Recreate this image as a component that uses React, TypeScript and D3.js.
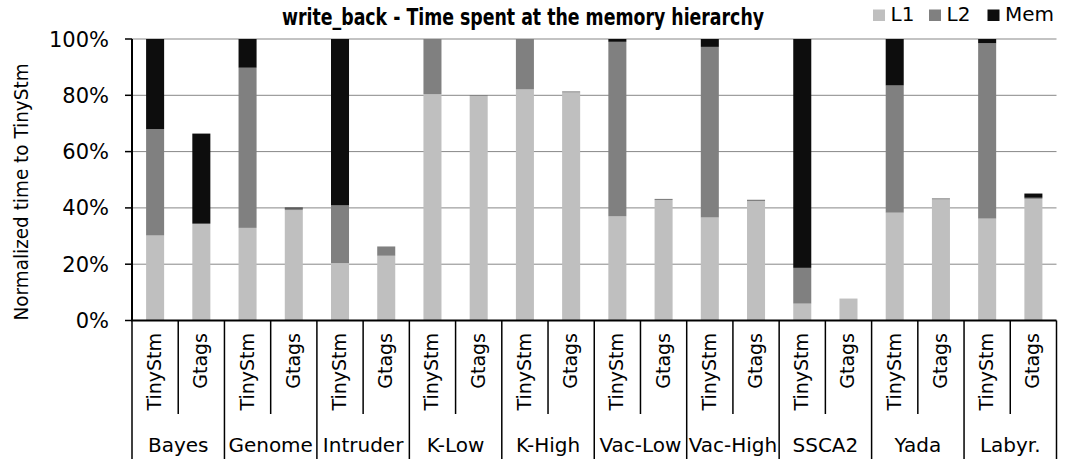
import React from 'react';
import * as d3 from 'd3';

const benchmarks = ['Bayes', 'Genome', 'Intruder', 'K-Low', 'K-High', 'Vac-Low', 'Vac-High', 'SSCA2', 'Yada', 'Labyr.'];
const systems = ['TinyStm', 'Gtags'];
const seriesNames = ['L1', 'L2', 'Mem'];
const seriesColors = ['#bfbfbf', '#808080', '#0d0d0d'];

const tinyL1 = [30.2, 32.9, 20.4, 80.4, 82.1, 37.0, 36.6, 6.0, 38.3, 36.2];
const tinyL2 = [37.8, 56.9, 20.5, 19.6, 17.9, 62.0, 60.6, 12.7, 45.2, 62.3];
const tinyMem = [32.0, 10.2, 59.1, 0, 0, 1.0, 2.8, 81.3, 16.5, 1.5];

const gtagsL1 = [34.4, 39.2, 23.0, 79.8, 81.0, 42.8, 42.4, 7.8, 43.0, 43.2];
const gtagsL2 = [0, 0.6, 3.3, 0.3, 0.4, 0.4, 0.5, 0, 0.4, 0.4];
const gtagsMem = [32.0, 0.3, 0, 0, 0, 0, 0, 0, 0, 1.5];

const yTicks = [0, 20, 40, 60, 80, 100];

const titleText = 'write_back - Time spent at the memory hierarchy';
const yTitle = 'Normalized time to TinyStm';

type Row = { key: string; bench: string; sys: string; L1: number; L2: number; Mem: number };

export default function App() {
  const W = 1070;
  const H = 463;
  const left = 132;
  const right = 1056.5;
  const top = 39;
  const bottom = 320.5;
  const font = '"DejaVu Sans", Verdana, sans-serif';

  const titleRef = React.useRef<SVGTextElement>(null);
  const yTitleRef = React.useRef<SVGTextElement>(null);
  const [titleScale, setTitleScale] = React.useState(0.68);
  const [yTitleScale, setYTitleScale] = React.useState(0.97);

  React.useLayoutEffect(() => {
    if (titleRef.current) {
      const w = titleRef.current.getComputedTextLength();
      if (w > 0) setTitleScale(482 / w);
    }
    if (yTitleRef.current) {
      const w = yTitleRef.current.getComputedTextLength();
      if (w > 0) setYTitleScale(257 / w);
    }
  }, []);

  const rows: Row[] = benchmarks.flatMap((b, i) =>
    systems.map((s, j) => ({
      key: `${b}|${s}`,
      bench: b,
      sys: s,
      L1: j === 0 ? tinyL1[i] : gtagsL1[i],
      L2: j === 0 ? tinyL2[i] : gtagsL2[i],
      Mem: j === 0 ? tinyMem[i] : gtagsMem[i],
    }))
  );

  const x = d3
    .scaleBand<string>()
    .domain(rows.map((r) => r.key))
    .range([left, right])
    .paddingInner(0.61)
    .paddingOuter(0.305);
  const step = x.step();
  const y = d3.scaleLinear().domain([0, 100]).range([bottom, top]);

  const stacked = d3.stack<Row>().keys(seriesNames)(rows as any);

  const legendX = [873, 929, 987.5];

  return (
    <svg
      width={W}
      height={H}
      style={{ position: 'absolute', left: 0, top: 0, display: 'block', background: '#fff' }}
      fontFamily={font}
    >
      {/* gridlines */}
      {yTicks.filter((t) => t > 0).map((t) => (
        <line key={'g' + t} x1={left} x2={right} y1={y(t)} y2={y(t)} stroke="#878787" strokeWidth={1} />
      ))}
      {/* bars */}
      {stacked.map((layer, li) => (
        <g key={layer.key} fill={seriesColors[li]}>
          {layer.map((d, i) => {
            const h = y(d[0]) - y(d[1]);
            if (h <= 0) return null;
            return (
              <rect key={i} x={x(rows[i].key)} y={y(d[1])} width={x.bandwidth()} height={h} />
            );
          })}
        </g>
      ))}
      {/* y axis */}
      <line x1={left} x2={left} y1={top} y2={bottom} stroke="#000" strokeWidth={2} />
      {yTicks.map((t) => (
        <g key={'t' + t}>
          <line x1={left - 7} x2={left} y1={y(t)} y2={y(t)} stroke="#000" strokeWidth={1.5} />
          <text x={109} y={y(t) + 7.5} textAnchor="end" fontSize={21} fill="#000">
            {t}%
          </text>
        </g>
      ))}
      {/* x axis */}
      <line x1={left - 1} x2={right} y1={bottom} y2={bottom} stroke="#000" strokeWidth={2} />
      {benchmarks.map((b, g) => {
        const gx = left + 2 * g * step;
        return (
          <g key={'sep' + b}>
            <line x1={gx} x2={gx} y1={bottom} y2={459} stroke="#000" strokeWidth={1.5} />
            <line x1={gx + step} x2={gx + step} y1={bottom} y2={414} stroke="#000" strokeWidth={1.5} />
            <text x={gx + step} y={452} textAnchor="middle" fontSize={20} fill="#000">
              {b}
            </text>
          </g>
        );
      })}
      <line x1={right} x2={right} y1={bottom} y2={459} stroke="#000" strokeWidth={1.5} />
      {rows.map((r) => {
        const cx = (x(r.key) as number) + x.bandwidth() / 2;
        return (
          <text
            key={'l' + r.key}
            transform={`translate(${cx + 6},333) rotate(-90)`}
            textAnchor="end"
            fontSize={19}
            fill="#000"
          >
            {r.sys}
          </text>
        );
      })}
      {/* y title */}
      <text
        ref={yTitleRef}
        transform={`translate(28,192) rotate(-90) scale(${yTitleScale},1)`}
        textAnchor="middle"
        fontSize={19}
        fill="#000"
      >
        {yTitle}
      </text>
      {/* title */}
      <text
        ref={titleRef}
        transform={`translate(282,25) scale(${titleScale},1)`}
        fontSize={23}
        fontWeight="bold"
        fill="#000"
      >
        {titleText}
      </text>
      {/* legend */}
      {seriesNames.map((s, i) => (
        <g key={'lg' + s}>
          <rect x={legendX[i]} y={9.5} width={12} height={11.5} fill={seriesColors[i]} />
          <text x={legendX[i] + 17.5} y={20.7} fontSize={20} fill="#000">
            {s}
          </text>
        </g>
      ))}
    </svg>
  );
}
